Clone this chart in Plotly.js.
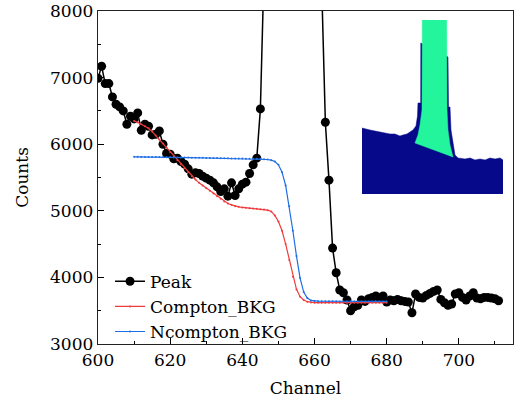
<!DOCTYPE html>
<html><head><meta charset="utf-8">
<script src="https://cdn.plot.ly/plotly-3.0.1.min.js"></script>
<style>html,body{margin:0;padding:0;background:#fff}#chart{width:516px;height:403px}</style>
</head><body><div id="chart"></div>
<script>
// ---- main spectrum ----
const peakChannel = [
 600,601,602,603,604,605,606,607,608,609,
 610,611,612,613,614,615,616,617,618,619,
 620,621,622,623,624,625,626,627,628,629,
 630,631,632,633,634,635,636,637,638,639,
 640,641,642,643,644,645,646,647,648,649,
 650,651,652,653,654,655,656,657,658,659,
 660,661,662,663,664,665,666,667,668,669,
 670,671,672,673,674,675,676,677,678,679,
 680,681,682,683,684,685,686,687,688,689,
 690,691,692,693,694,695,696,697,698,699,
 700,701,702,703,704,705,706,707,708,709,
 710,711];
const peakCounts = [
 6990,7170,6910,6910,6710,6600,6560,6500,6300,6420,
 6380,6470,6210,6300,6270,6140,6150,6200,6000,5860,
 5850,5780,5790,5740,5700,5630,5550,5570,5560,5520,
 5490,5460,5420,5360,5290,5330,5220,5420,5230,5330,
 5400,5430,5560,5690,5790,6530,8600,12500,19000,27000,
 36000,45000,53000,58000,60000,58500,53000,45000,36000,26500,
 18500,12000,8350,6330,5460,4440,4070,3810,3770,3660,
 3500,3560,3580,3660,3640,3680,3700,3720,3690,3720,
 3630,3660,3650,3670,3650,3640,3630,3470,3750,3700,
 3690,3730,3760,3790,3810,3670,3620,3580,3600,3750,
 3770,3700,3660,3720,3770,3690,3680,3700,3700,3690,
 3680,3650];

const bkgChannel = [
 610,611,612,613,614,615,616,617,618,619,
 620,621,622,623,624,625,626,627,628,629,
 630,631,632,633,634,635,636,637,638,639,
 640,641,642,643,644,645,646,647,648,649,
 650,651,652,653,654,655,656,657,658,659,
 660,661,662,663,664,665,666,667,668,669,
 670,671,672,673,674,675,676,677,678,679,680];
const comptonBkg = [
 6350,6330,6300,6270,6240,6190,6130,6070,6010,5950,
 5880,5820,5760,5700,5640,5580,5520,5470,5420,5380,
 5340,5300,5260,5220,5180,5140,5110,5090,5070,5060,
 5050,5045,5040,5035,5030,5025,5020,5010,4990,4930,
 4840,4700,4500,4260,4010,3820,3710,3660,3635,3625,
 3620,3620,3620,3620,3620,3620,3620,3620,3620,3620,
 3620,3620,3620,3620,3620,3620,3620,3620,3620,3620,3620];
const ncomptonBkg = [
 5810,5810,5809,5808,5808,5807,5806,5806,5805,5804,
 5803,5802,5802,5801,5800,5799,5798,5797,5796,5795,
 5794,5793,5792,5791,5790,5789,5788,5787,5786,5785,
 5784,5783,5782,5781,5780,5780,5775,5770,5760,5740,
 5690,5580,5380,5070,4700,4320,3990,3780,3690,3655,
 3645,3643,3642,3642,3641,3641,3641,3640,3640,3640,
 3640,3640,3640,3640,3640,3640,3640,3640,3640,3640,3640];

// ---- inset sketch (inset units) ----
const insetBlueX = [0,3,8,13,18,23,28,33,38,41,45,48,51,54,55.5,56,58.7,58.8,86,86.5,88,89,91,93,96,103,108,113,118,123,128,133,138,141];
const insetBlueY = [66,65,64,63,62,61,60,60,58,59,60,62,64,68,78,91,91,151,137,87,87,64,51,39,36,35,36,34,35,34,36,35,36,34];
const insetGreenX = [60.3,84.7,85,86,88,91,53,56,58,60,60.3];
const insetGreenY = [174,174,84,64,49,37,51,59,69,84,174];

const xTicks = [600,620,640,660,680,700];
const yTicks = [3000,4000,5000,6000,7000,8000];
const names = ['Peak','Compton_BKG','Ncompton_BKG'];
const FONT = 'DejaVu Serif';

const traces = [
 {x: peakChannel, y: peakCounts, name: names[0], mode:'lines+markers',
  line:{color:'#000', width:1.5}, marker:{color:'#000', size:9}},
 {x: bkgChannel, y: comptonBkg, name: names[1], mode:'lines+markers',
  line:{color:'#f03c3c', width:1.2}, marker:{color:'#f03c3c', size:2}},
 {x: bkgChannel, y: ncomptonBkg, name: names[2], mode:'lines+markers',
  line:{color:'#1e6ee6', width:1.2}, marker:{color:'#1e6ee6', size:2}},
 {x: insetBlueX, y: insetBlueY, xaxis:'x2', yaxis:'y2', mode:'lines', fill:'tozeroy',
  fillcolor:'#06098a', line:{color:'#06098a', width:0.5}, showlegend:false, hoverinfo:'skip'},
 {x: insetGreenX, y: insetGreenY, xaxis:'x2', yaxis:'y2', mode:'lines', fill:'toself',
  fillcolor:'#22f59c', line:{color:'#22f59c', width:0.5}, showlegend:false, hoverinfo:'skip'}
];

const axisCommon = () => ({
 ticks:'inside', ticklen:6, tickwidth:1, tickcolor:'#000',
 showline:true, linecolor:'#222', linewidth:1.3, mirror:true,
 showgrid:false, zeroline:false, automargin:false,
 tickfont:{family:FONT, size:17, color:'#000'}
});

const layout = {
 width:516, height:403,
 margin:{l:98, r:3, t:11, b:59},
 paper_bgcolor:'#fff', plot_bgcolor:'#fff',
 font:{family:FONT, size:17, color:'#000'},
 showlegend:true,
 legend:{x:0.029, y:0.241, xanchor:'left', yanchor:'top', bgcolor:'rgba(0,0,0,0)',
  font:{family:FONT, size:17, color:'#000'}, tracegroupgap:0},
 xaxis:Object.assign(axisCommon(), {
  range:[600,715], tickmode:'array', tickvals:xTicks,
  minor:{dtick:10, tick0:600, ticks:'inside', ticklen:3, tickcolor:'#000'},
  title:{text:'Channel', standoff:13, font:{family:FONT, size:17, color:'#000'}}
 }),
 yaxis:Object.assign(axisCommon(), {
  range:[3000,8000], tickmode:'array', tickvals:yTicks,
  minor:{dtick:500, tick0:3000, ticks:'inside', ticklen:3, tickcolor:'#000'},
  title:{text:'Counts', standoff:17, font:{family:FONT, size:17, color:'#000'}}
 }),
 xaxis2:{domain:[0.636,0.976], range:[0,141], visible:false, anchor:'y2', fixedrange:true},
 yaxis2:{domain:[0.4505,0.973], range:[0,174], visible:false, anchor:'x2', fixedrange:true}
};

Plotly.newPlot('chart', traces, layout, {displayModeBar:false, staticPlot:true});
</script></body></html>
